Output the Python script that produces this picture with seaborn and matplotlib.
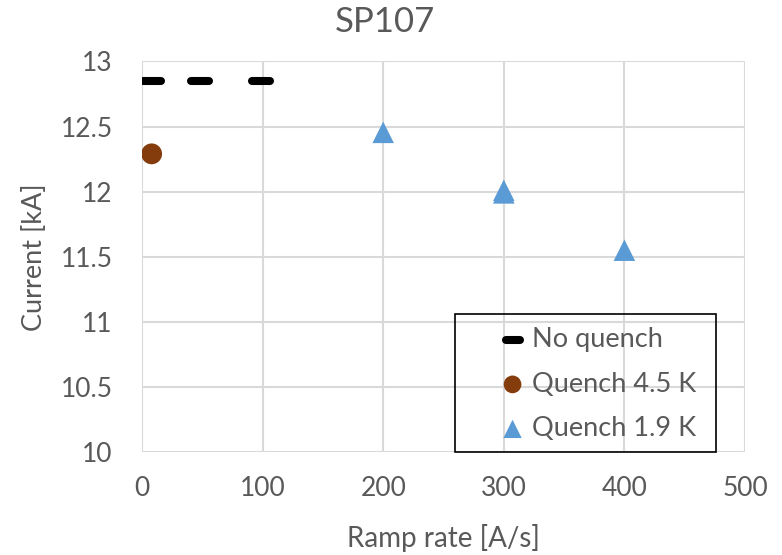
import matplotlib
matplotlib.use("Agg")
import matplotlib.pyplot as plt
from matplotlib.patches import Rectangle
import seaborn as sns
import pandas as pd

# Ramp-rate test results for SP107
no_quench_rate = [8, 48, 99]
no_quench_current = [12.85, 12.85, 12.85]

quench_45_rate = [8]
quench_45_current = [12.29]

quench_19_rate = [200, 300, 300, 400]
quench_19_current = [12.455, 11.99, 12.01, 11.55]

x_ticks = [0, 100, 200, 300, 400, 500]
y_ticks = [10, 10.5, 11, 11.5, 12, 12.5, 13]

sns.set_theme(style="white")
plt.rcParams["font.family"] = ["Lato", "DejaVu Sans"]

text_color = "#595959"
grid_color = "#d9d9d9"
W, H = 782, 555

fig = plt.figure(figsize=(W / 100, H / 100), dpi=100)
ax_l, ax_r, ax_t, ax_b = 142, 745, 61.4, 452
ax = fig.add_axes([ax_l / W, 1 - ax_b / H, (ax_r - ax_l) / W, (ax_b - ax_t) / H])

df_nq = pd.DataFrame({"rate": no_quench_rate, "current": no_quench_current})
df_45 = pd.DataFrame({"rate": quench_45_rate, "current": quench_45_current})
df_19 = pd.DataFrame({"rate": quench_19_rate, "current": quench_19_current})

sns.scatterplot(data=df_nq, x="rate", y="current", ax=ax, marker="_",
                s=12.5 ** 2, color="black", linewidth=5.8, label="No quench",
                zorder=3)
ax.collections[-1].set_capstyle("round")
sns.scatterplot(data=df_45, x="rate", y="current", ax=ax, marker="o",
                s=15 ** 2, color="#843C0C", edgecolor="none",
                label="Quench 4.5 K", zorder=3)
sns.scatterplot(data=df_19, x="rate", y="current", ax=ax, marker="^",
                s=15.5 ** 2, color="#5B9BD5", edgecolor="none",
                label="Quench 1.9 K", zorder=3)

ax.set_xlim(0, 500)
ax.set_ylim(10, 13)
ax.set_xticks(x_ticks)
ax.set_yticks(y_ticks)
ax.set_xticklabels([str(v) for v in x_ticks])
ax.set_yticklabels([f"{v:g}" for v in y_ticks])
ax.grid(True, color=grid_color, linewidth=1.5)
ax.set_axisbelow(True)
for side in ["top", "right", "left", "bottom"]:
    ax.spines[side].set_visible(False)
ax.tick_params(axis="both", labelsize=19, colors=text_color, length=0)
ax.tick_params(axis="x", pad=17)
ax.tick_params(axis="y", pad=21)

ax_h = ax_b - ax_t
ax_w = ax_r - ax_l
ax.set_xlabel("Ramp rate [A/s]", fontsize=20, color=text_color)
ax.xaxis.label.set_va("center")
ax.xaxis.set_label_coords(0.5, (ax_b - 538) / ax_h)
ax.set_ylabel("Current [kA]", fontsize=19.5, color=text_color)
ax.yaxis.label.set_va("center")
ax.yaxis.set_label_coords((35 - ax_l) / ax_w, 0.5)

fig.text(385 / W, 1 - 22 / H, "SP107", fontsize=25, color=text_color,
         ha="center", va="center")

# legend entries without frame; the box is drawn separately
leg = ax.legend(loc="upper left", bbox_to_anchor=(499 / W, 1 - 327 / H),
                bbox_transform=fig.transFigure, fontsize=19.5, frameon=False,
                borderpad=0, handletextpad=0.2, labelspacing=0.72,
                markerscale=0.85, handlelength=1.0, borderaxespad=0)
for t in leg.get_texts():
    t.set_color(text_color)
leg.legend_handles[0].set_capstyle("round")

box = Rectangle((455 / W, 1 - 452 / H), (716 - 455) / W, (452 - 314) / H,
                transform=fig.transFigure, fill=False, edgecolor="black",
                linewidth=1.2, zorder=5)
fig.add_artist(box)

fig.savefig("out.png", dpi=100)
